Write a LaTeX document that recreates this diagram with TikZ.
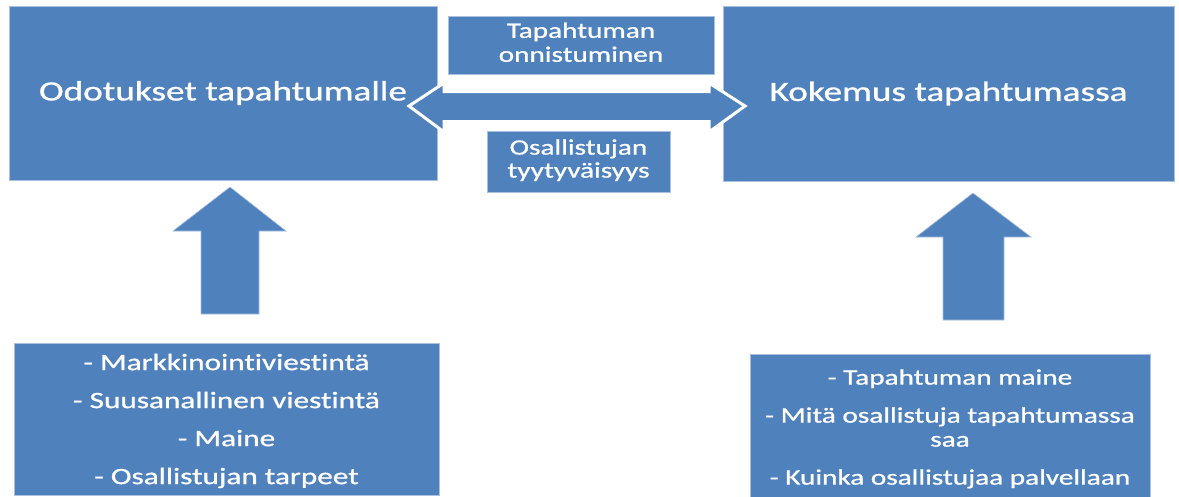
\documentclass[tikz,border=0pt]{standalone}
\usepackage{fontspec}
\setmainfont{Carlito}[Ligatures={NoCommon}, FakeBold=0.8, BoldFont=Carlito]
\usepackage{graphicx}
\definecolor{boxblue}{HTML}{4F81BD}
\definecolor{edgeblue}{HTML}{A9C0DE}
\newcommand{\hs}[1]{\scalebox{1.33}[1]{\bfseries #1}}
\tikzset{
  box/.style={fill=boxblue, draw=edgeblue, line width=0.8pt, inner sep=0pt, text=white, align=center},
  blockarrow/.style={fill=boxblue, draw=edgeblue, line width=0.6pt, line join=miter},
  dblarrow/.style={fill=boxblue, draw=white, line width=3pt, line join=miter}
}
\begin{document}
\begin{tikzpicture}[x=1pt,y=-1pt]
\useasboundingbox (0,0) rectangle (1179,496);
\fill[white] (0,0) rectangle (1179,496);
% top boxes
\node[box, minimum width=428pt, minimum height=174pt] (exp) at (223,93)
  {\hs{\fontsize{28}{34}\selectfont Odotukset tapahtumalle}};
\node[box, minimum width=451pt, minimum height=175pt] (kok) at (948.5,93.5)
  {\hs{\fontsize{28}{34}\selectfont Kokemus tapahtumassa}};
% double arrow
\draw[dblarrow] (409,106) -- (444,83) -- (444,91.5) -- (709,91.5) -- (709,83) -- (745,106)
  -- (709,132) -- (709,121.5) -- (444,121.5) -- (444,132) -- cycle;
% middle boxes
\node[box, minimum width=266pt, minimum height=58pt] (succ) at (581,45)
  {\hs{\fontsize{22}{24}\selectfont\begin{tabular}{@{}c@{}}Tapahtuman\\onnistuminen\end{tabular}}};
\node[box, minimum width=183pt, minimum height=61pt] (sat) at (578.5,161.5)
  {\hs{\fontsize{22}{23}\selectfont\begin{tabular}{@{}c@{}}Osallistujan\\tyytyväisyys\end{tabular}}};
% bottom boxes
\node[box, minimum width=425pt, minimum height=147pt] (fl) at (226.5,419.5)
  {\hs{\fontsize{23.5}{38}\selectfont\begin{tabular}{@{}c@{}}- Markkinointiviestintä\\- Suusanallinen viestintä\\- Maine\\- Osallistujan tarpeet\end{tabular}}};
\node[box, minimum width=400pt, minimum height=146pt] (fr) at (950,427)
  {\hs{\fontsize{22}{38}\selectfont\begin{tabular}{@{}c@{}}- Tapahtuman maine\\- Mitä osallistuja tapahtumassa\\[-14pt]saa\\- Kuinka osallistujaa palvellaan\end{tabular}}};
% up arrows
\draw[blockarrow] (230,187) -- (286,231) -- (259,231) -- (259,314) -- (201,314) -- (201,231) -- (173,231) -- cycle;
\draw[blockarrow] (973,193) -- (1031,237) -- (1004,237) -- (1004,320) -- (943,320) -- (943,237) -- (916,237) -- cycle;
\end{tikzpicture}
\end{document}
